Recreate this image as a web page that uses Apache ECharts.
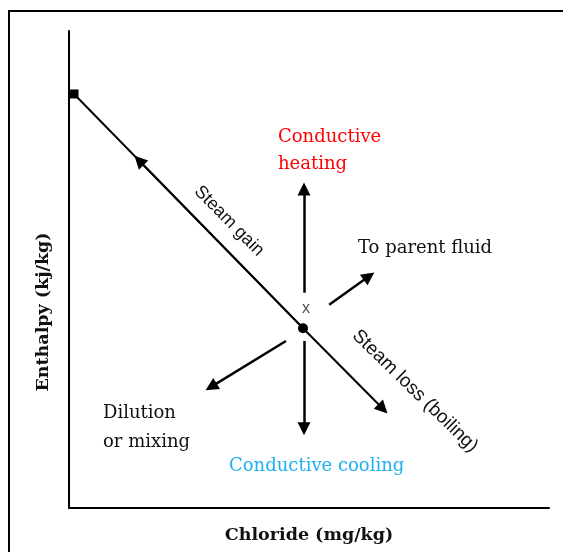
<!DOCTYPE html>
<html>
<head>
<meta charset="utf-8">
<script src="https://cdn.jsdelivr.net/npm/echarts@6/dist/echarts.min.js"></script>
<style>
  html, body { margin: 0; padding: 0; background: #fff; }
  #chart { width: 563px; height: 552px; }
</style>
</head>
<body>
<div id="chart"></div>
<script>
  // end member (pure steam) and parent fluid, in axis units (0-100)
  var steamPoint = [1.04, 86.8];
  var parentPoint = [48.75, 37.7];
  var sourcePoint = [49.4, 41.7];

  // process arrows
  var arrowNames = ['Steam gain', 'Steam loss (boiling)', 'Conductive heating', 'To parent fluid', 'Dilution or mixing', 'Conductive cooling'];
  var arrowFrom = [[48.75, 37.7], [48.75, 37.7], [48.96, 45.1], [54.2, 42.6], [45.2, 35.0], [48.96, 35.0]];
  var arrowTo = [[14.58, 72.86], [65.4, 20.8], [48.96, 66.9], [62.5, 48.6], [29.6, 25.4], [48.96, 16.6]];

  var myChart = echarts.init(document.getElementById('chart'));

  var arrowData = [];
  for (var i = 0; i < arrowNames.length; i++) {
    // the two steam arrows sit on the mixing line, keep them as thin as it
    var w = i < 2 ? 2 : 2.5;
    arrowData.push({ name: arrowNames[i], coords: [arrowFrom[i], arrowTo[i]], lineStyle: { width: w } });
  }

  var serif = '"DejaVu Serif", serif';
  var sans = '"Liberation Sans", sans-serif';

  var option = {
    animation: false,
    backgroundColor: '#fff',
    grid: { left: 69, top: 31, right: 14, bottom: 44 },
    xAxis: {
      type: 'value', min: 0, max: 100,
      name: 'Chloride (mg/kg)',
      nameLocation: 'middle',
      nameGap: 18,
      nameTextStyle: { fontFamily: serif, fontWeight: 'bold', fontSize: 17.5, color: '#111', verticalAlign: 'top' },
      axisLine: { show: true, lineStyle: { color: '#000', width: 2 } },
      axisTick: { show: false },
      axisLabel: { show: false },
      splitLine: { show: false }
    },
    yAxis: {
      type: 'value', min: 0, max: 100,
      axisLine: { show: true, lineStyle: { color: '#000', width: 2 } },
      axisTick: { show: false },
      axisLabel: { show: false },
      splitLine: { show: false }
    },
    graphic: [
      { type: 'rect', shape: { x: 9, y: 11, width: 700, height: 700 }, style: { fill: 'none', stroke: '#000', lineWidth: 2 }, silent: true },
      { type: 'text', x: 43, y: 312, rotation: Math.PI / 2, style: { text: 'Enthalpy (kj/kg)', x: 0, y: 0, fill: '#111', font: 'bold 17.5px ' + serif, align: 'center', verticalAlign: 'middle' } },
      { type: 'text', style: { text: 'Conductive', x: 278, y: 137, fill: '#ff0000', font: '18px ' + serif, align: 'left', verticalAlign: 'middle' } },
      { type: 'text', style: { text: 'heating', x: 278, y: 164, fill: '#ff0000', font: '18px ' + serif, align: 'left', verticalAlign: 'middle' } },
      { type: 'text', style: { text: 'To parent fluid', x: 358, y: 248, fill: '#111', font: '18px ' + serif, align: 'left', verticalAlign: 'middle' } },
      { type: 'text', style: { text: 'Dilution', x: 103, y: 413, fill: '#111', font: '18px ' + serif, align: 'left', verticalAlign: 'middle' } },
      { type: 'text', style: { text: 'or mixing', x: 103, y: 442, fill: '#111', font: '18px ' + serif, align: 'left', verticalAlign: 'middle' } },
      { type: 'text', style: { text: 'Conductive cooling', x: 229, y: 466, fill: '#1eb0f0', font: '18px ' + serif, align: 'left', verticalAlign: 'middle' } },
      { type: 'text', x: 229, y: 221, rotation: -0.79, style: { text: 'Steam gain', x: 0, y: 0, fill: '#111', font: '18px ' + sans, align: 'center', verticalAlign: 'middle' } },
      { type: 'text', x: 415, y: 391, rotation: -0.77, style: { text: 'Steam loss (boiling)', x: 0, y: 0, fill: '#111', font: '19px ' + sans, align: 'center', verticalAlign: 'middle' } }
    ],
    series: [
      {
        name: 'Mixing line',
        type: 'line',
        data: [steamPoint, parentPoint],
        symbol: 'none',
        lineStyle: { color: '#000', width: 2 }
      },
      {
        name: 'Processes',
        type: 'lines',
        coordinateSystem: 'cartesian2d',
        symbol: ['none', 'triangle'],
        symbolSize: [9, 13],
        lineStyle: { color: '#000', width: 2.5, opacity: 1 },
        data: arrowData
      },
      {
        name: 'Steam',
        type: 'scatter',
        symbol: 'rect',
        symbolSize: 9,
        itemStyle: { color: '#000', opacity: 1 },
        data: [steamPoint]
      },
      {
        name: 'Parent',
        type: 'scatter',
        symbol: 'circle',
        symbolSize: 10,
        itemStyle: { color: '#000', opacity: 1 },
        data: [parentPoint]
      },
      {
        name: 'Source',
        type: 'scatter',
        symbolSize: 0,
        data: [sourcePoint],
        label: { show: true, position: 'inside', formatter: 'x', fontFamily: sans, fontSize: 16, color: '#222' }
      }
    ]
  };
  myChart.setOption(option);
</script>
</body>
</html>
